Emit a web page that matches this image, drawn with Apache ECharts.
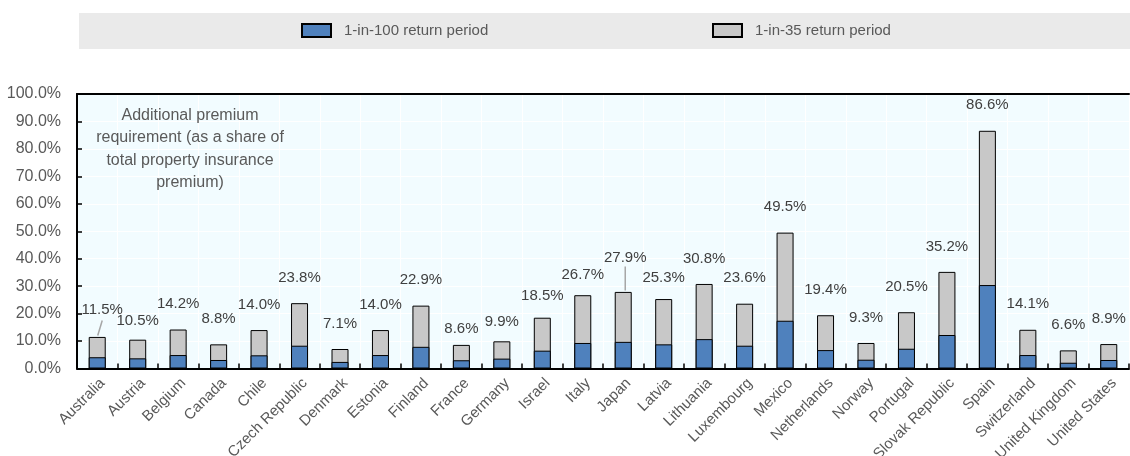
<!DOCTYPE html>
<html>
<head>
<meta charset="utf-8">
<script src="https://cdn.jsdelivr.net/npm/echarts@6/dist/echarts.min.js"></script>
<style>
  html, body { margin: 0; padding: 0; background: #fff; }
  #chart { width: 1130px; height: 456px; }
</style>
</head>
<body>
<div id="chart"></div>
<script>
// Countries, in display order
const countries = [
  'Australia', 'Austria', 'Belgium', 'Canada', 'Chile', 'Czech Republic',
  'Denmark', 'Estonia', 'Finland', 'France', 'Germany', 'Israel', 'Italy',
  'Japan', 'Latvia', 'Lithuania', 'Luxembourg', 'Mexico', 'Netherlands',
  'Norway', 'Portugal', 'Slovak Republic', 'Spain', 'Switzerland',
  'United Kingdom', 'United States'
];

// Additional premium requirement, % of total property insurance premium
const returnPeriod100 = [
  4.1, 3.7, 4.9, 3.1, 4.8, 8.3, 2.4, 4.9, 7.9, 3.0, 3.6, 6.5, 9.3,
  9.7, 8.8, 10.7, 8.3, 17.4, 6.7, 3.2, 7.2, 12.2, 30.4, 4.9, 2.1, 3.1
];
const returnPeriod35 = [
  11.5, 10.5, 14.2, 8.8, 14.0, 23.8, 7.1, 14.0, 22.9, 8.6, 9.9, 18.5, 26.7,
  27.9, 25.3, 30.8, 23.6, 49.5, 19.4, 9.3, 20.5, 35.2, 86.6, 14.1, 6.6, 8.9
];

const yTicks = [0, 10, 20, 30, 40, 50, 60, 70, 80, 90, 100];

const seriesNames = ['1-in-100 return period', '1-in-35 return period'];
const noteText = 'Additional premium\nrequirement (as a share of\ntotal property insurance\npremium)';

// Hand-placed label nudges [dx, dy]
const labelNudge = {
  'Australia': [5, -2], 'Austria': [0, 7], 'France': [0, 9], 'Germany': [0, 6],
  'Israel': [0, 4], 'Italy': [0, 5], 'Latvia': [0, 4], 'Japan': [2, -9]
};
// Leader lines from bar top to a displaced label: [x shift at bar, x shift at label, length]
const leaderLines = {
  'Australia': [0.5, 5, 15],
  'Japan': [2, 2, 24]
};

const textColor = '#595959';
const font = 'Liberation Sans, Arial, sans-serif';

const chart = echarts.init(document.getElementById('chart'), null, { renderer: 'canvas' });

const totalData = returnPeriod35.map((v, i) => {
  const name = countries[i];
  const item = { value: v };
  if (labelNudge[name]) item.label = { offset: labelNudge[name] };
  return item;
});

const legendBase = {
  top: 23, itemWidth: 29, itemHeight: 13, itemGap: 0, padding: 0, icon: 'rect',
  textStyle: { color: textColor, fontSize: 15, fontFamily: font, padding: [1, 0, 0, 8] }
};

chart.setOption({
  animation: false,
  backgroundColor: '#ffffff',
  textStyle: { fontFamily: font },
  graphic: [
    {
      type: 'rect', id: 'legendBand', x: 79, y: 13, z: -10,
      shape: { width: 1051, height: 36 },
      style: { fill: '#eaeaea' }
    },
    {
      type: 'text', id: 'note', x: 190, y: 104, z: 10,
      style: {
        text: noteText, fill: textColor, font: '16px ' + font,
        align: 'center', verticalAlign: 'top', lineHeight: 22.5
      }
    }
  ],
  legend: [
    Object.assign({ data: [seriesNames[0]], left: 301 }, legendBase),
    Object.assign({ data: [seriesNames[1]], left: 712 }, legendBase)
  ],
  grid: {
    left: 77, right: 1, top: 94, bottom: 87.5,
    outerBoundsMode: 'none', containLabel: false,
    show: true, backgroundColor: '#f2fcff', borderWidth: 0
  },
  xAxis: [
    {
      type: 'category', data: countries,
      axisLine: { lineStyle: { color: '#000', width: 2 } },
      axisTick: { show: true, inside: true, length: 5, lineStyle: { color: '#000', width: 1.5 } },
      splitLine: { show: true, lineStyle: { color: '#ffffff', width: 1 } },
      axisLabel: {
        rotate: 45, color: textColor, fontSize: 15, fontFamily: font,
        margin: 7, interval: 0, verticalAlign: 'top'
      }
    },
    {
      type: 'category', data: countries, position: 'top',
      axisLine: { show: true, lineStyle: { color: '#000', width: 2 } },
      axisTick: { show: false }, axisLabel: { show: false }, splitLine: { show: false }
    }
  ],
  yAxis: {
    type: 'value', min: yTicks[0], max: yTicks[yTicks.length - 1], interval: 10,
    axisLine: { show: true, lineStyle: { color: '#000', width: 2 } },
    axisTick: { show: true, inside: true, length: 5, lineStyle: { color: '#000', width: 1.5 } },
    splitLine: { show: true, lineStyle: { color: '#ffffff', width: 1 } },
    axisLabel: {
      color: textColor, fontSize: 16, fontFamily: font, margin: 16,
      formatter: v => v.toFixed(1) + '%'
    }
  },
  series: [
    {
      name: seriesNames[1], type: 'bar', data: totalData,
      barWidth: 17, barGap: '-100%', z: 2,
      itemStyle: { color: '#c8c8c8', borderColor: '#000', borderWidth: 1 },
      label: {
        show: true, position: 'top', distance: 18,
        color: '#404040', fontSize: 15, fontFamily: font,
        formatter: p => p.value.toFixed(1) + '%'
      }
    },
    {
      name: seriesNames[0], type: 'bar', data: returnPeriod100,
      barWidth: 17, barGap: '-100%', z: 3,
      itemStyle: { color: '#4f81bd', borderColor: '#000', borderWidth: 1 }
    }
  ]
});

// Leader lines, placed through the chart's own scales
const lines = Object.keys(leaderLines).map(name => {
  const i = countries.indexOf(name);
  const [x0, y0] = chart.convertToPixel({ seriesIndex: 0 }, [i, returnPeriod35[i]]);
  const [a, b, len] = leaderLines[name];
  return {
    type: 'line', id: 'leader-' + name, z: 5,
    shape: { x1: x0 + a, y1: y0 - 1.5, x2: x0 + b, y2: y0 - 1.5 - len },
    style: { stroke: '#a6a6a6', lineWidth: 1.5 }
  };
});
chart.setOption({ graphic: lines });
</script>
</body>
</html>
